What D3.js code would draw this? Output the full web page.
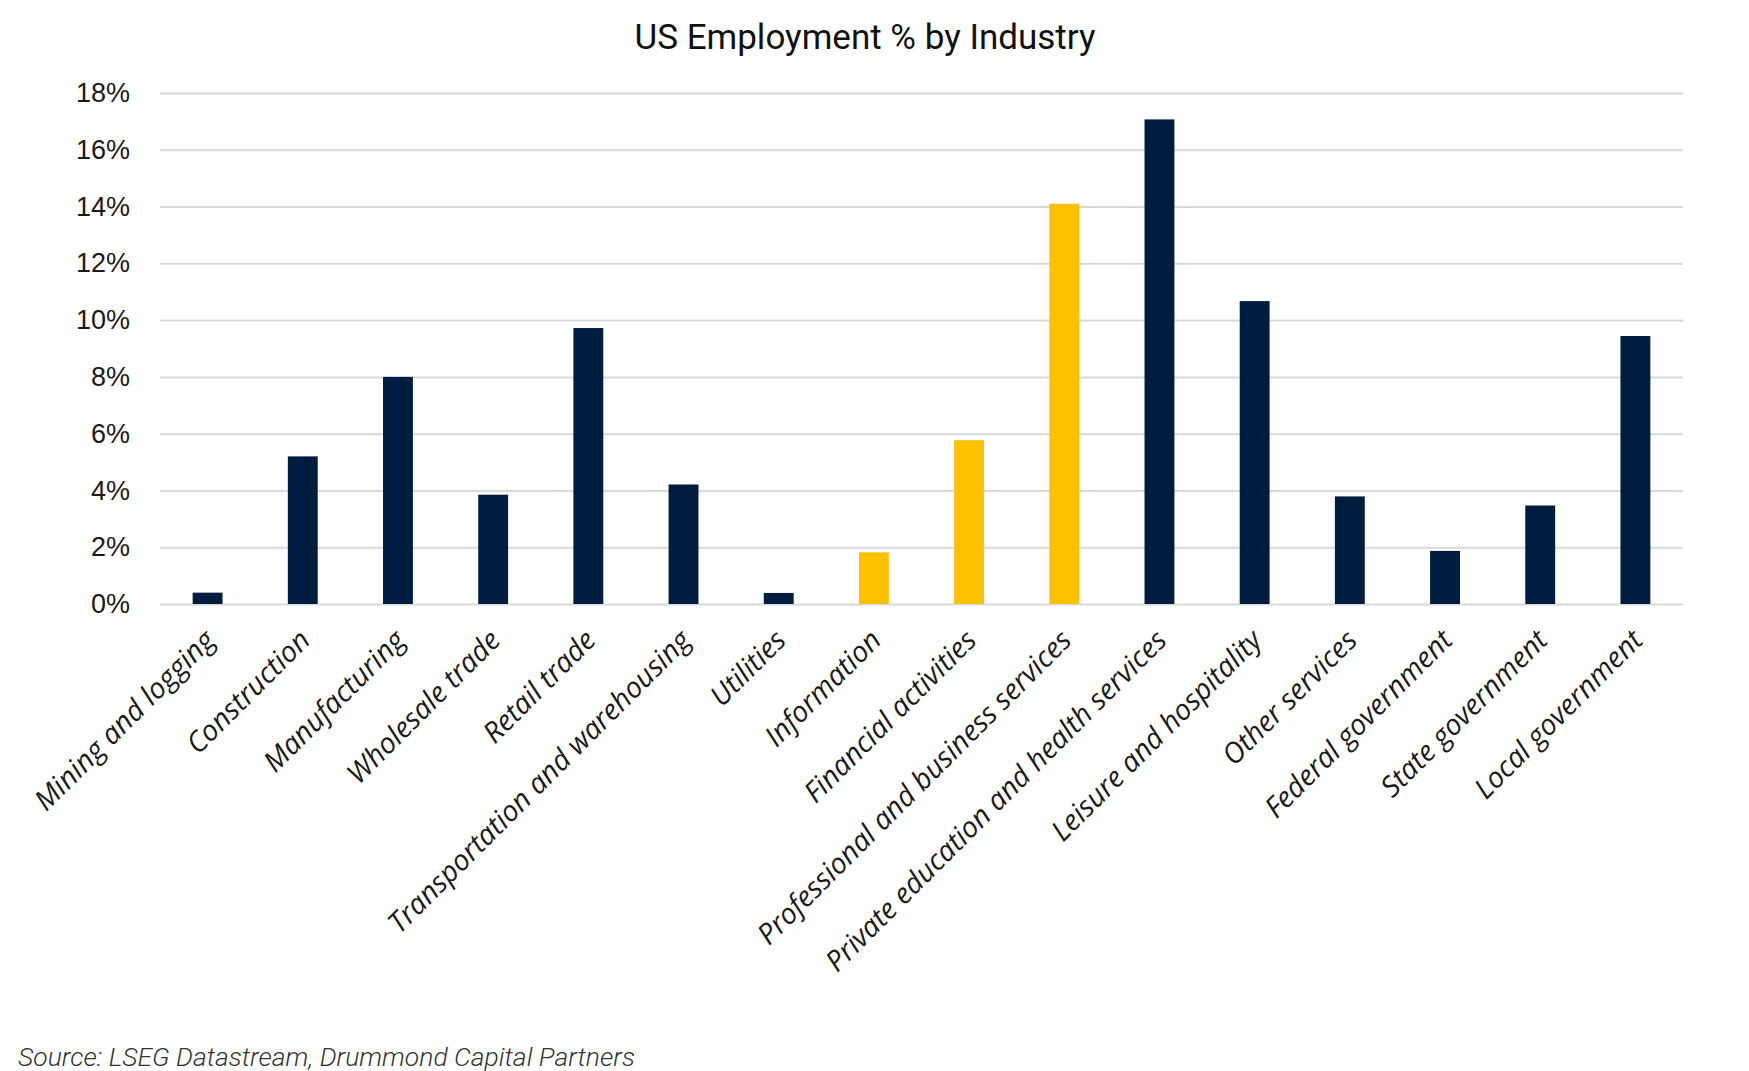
<!DOCTYPE html>
<html>
<head>
<meta charset="utf-8">
<script src="https://cdn.jsdelivr.net/npm/d3@7"></script>
<style>
    body { margin: 0; background: #fff; }
</style>
</head>
<body>
<div id="chart"></div>
<script>
// data
const industries = ["Mining and logging", "Construction", "Manufacturing", "Wholesale trade", "Retail trade",
    "Transportation and warehousing", "Utilities", "Information", "Financial activities",
    "Professional and business services", "Private education and health services", "Leisure and hospitality",
    "Other services", "Federal government", "State government", "Local government"];
const shares = [0.4, 5.2, 8.0, 3.85, 9.72, 4.21, 0.39, 1.82, 5.77, 14.1, 17.07, 10.67, 3.79, 1.87, 3.47, 9.44];
const highlighted = ["Information", "Financial activities", "Professional and business services"];
const yTicks = [0, 2, 4, 6, 8, 10, 12, 14, 16, 18];

const data = industries.map((name, i) => ({ name: name, value: shares[i] }));

// dimensions
const width = 1749;
const height = 1071;
const margin = { "top": 93, "left": 160, "right": 66, "bottom": 467 };

const navy = "#001d40";
const gold = "#ffc000";

const svg = d3.select("#chart").append("svg").attr("width", width).attr("height", height);

const x = d3.scaleBand().domain(industries)
    .range([margin.left, width - margin.right])
    .paddingInner(0.686).paddingOuter(0.343);

const y = d3.scaleLinear().domain([0, 18]).range([height - margin.bottom, margin.top]);

// title
svg.append("text")
    .attr("x", 865).attr("y", 49)
    .attr("text-anchor", "middle")
    .style("font-family", "'Liberation Sans Narrow', 'Roboto', sans-serif")
    .style("font-size", "35px")
    .attr("fill", "#111")
    .text("US Employment % by Industry");

// gridlines + y labels
const yAxis = d3.axisLeft(y).tickValues(yTicks).tickFormat(d => `${d}%`)
    .tickSize(-(width - margin.left - margin.right)).tickPadding(30);

svg.append("g").attr("class", "yAxis")
    .attr("transform", `translate(${margin.left},0)`)
    .call(yAxis)
    .call(g => g.select(".domain").remove())
    .call(g => g.selectAll(".tick line").attr("stroke", "#d9d9d9").attr("stroke-width", 2))
    .call(g => g.selectAll(".tick text")
        .style("font-family", "'Liberation Sans', Arial, sans-serif")
        .style("font-size", "27px")
        .attr("fill", "#1a1a1a"));

// bars
svg.selectAll("rect.bar")
    .data(data)
    .join("rect")
    .attr("class", "bar")
    .attr("x", d => x(d.name))
    .attr("y", d => y(d.value))
    .attr("width", x.bandwidth())
    .attr("height", d => y(0) - y(d.value))
    .attr("fill", d => highlighted.includes(d.name) ? gold : navy);

// rotated category labels
const xAxis = d3.axisBottom(x).tickSize(0).tickPadding(0);
svg.append("g").attr("class", "xAxis")
    .attr("transform", `translate(0,${y(0)})`)
    .call(xAxis)
    .call(g => g.select(".domain").remove())
    .call(g => g.selectAll(".tick text")
        .attr("text-anchor", "end")
        .attr("dy", 0)
        .attr("transform", "translate(9,38) rotate(-45)")
        .style("font-family", "'Open Sans', sans-serif")
        .style("font-style", "italic")
        .style("font-size", "28.5px")
        .attr("fill", "#1a1a1a"));

// source note
svg.append("text")
    .attr("x", 18).attr("y", 1066)
    .style("font-family", "'Roboto', sans-serif")
    .style("font-style", "italic")
    .style("font-weight", 300)
    .style("font-size", "26.5px")
    .attr("fill", "#333")
    .text("Source: LSEG Datastream, Drummond Capital Partners");
</script>
</body>
</html>
